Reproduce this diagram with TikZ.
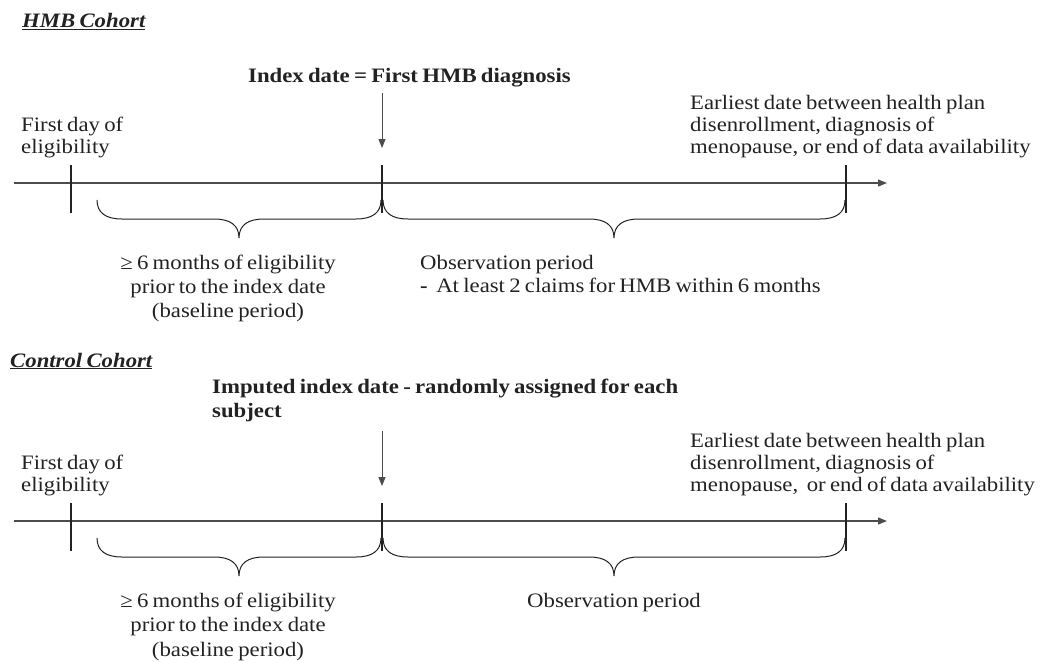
\documentclass[tikz,border=0pt]{standalone}
\usepackage{fontspec}
\setmainfont{Liberation Serif}[FakeStretch=1.11,WordSpace=0.75]
\usetikzlibrary{decorations.pathreplacing,arrows.meta,calc}
\definecolor{ink}{HTML}{222222}
\begin{document}
\begin{tikzpicture}[x=1pt,y=-1pt,
  txt/.style={anchor=base west,inner sep=0pt,text=ink,font=\fontsize{20.5}{22}\selectfont},
  ctxt/.style={anchor=base,inner sep=0pt,text=ink,font=\fontsize{20.5}{22}\selectfont},
  btxt/.style={anchor=base west,inner sep=0pt,text=ink,font=\fontsize{20.5}{22}\selectfont\bfseries},
  ttl/.style={anchor=base west,inner sep=0pt,text=ink,font=\fontsize{20.5}{22}\selectfont\bfseries\itshape},
  timeaxis/.style={draw=black!70,line width=1.2pt,-{Triangle[length=9pt,width=7pt]}},
  tickmark/.style={draw=ink,line width=2.6pt},
  brc/.style={draw=ink,line width=1pt,to path={let \p1=(\tikztostart), \p2=(\tikztotarget), \p3=($(\tikztostart)!0.5!(\tikztotarget)$) in
    (\p1) .. controls (\x1,\y1-13pt) and (\x1+9pt,\y1-19pt) .. (\x1+25pt,\y1-19pt)
    -- (\x3-25pt,\y1-19pt) .. controls (\x3-9pt,\y1-19pt) and (\x3,\y1-25pt) .. (\x3,\y1-38pt)
    .. controls (\x3,\y1-25pt) and (\x3+9pt,\y1-19pt) .. (\x3+25pt,\y1-19pt)
    -- (\x2-25pt,\y1-19pt) .. controls (\x2-9pt,\y1-19pt) and (\x2,\y1-13pt) .. (\x2,\y1)}},
  pointer/.style={draw=black!70,line width=1pt,-{Triangle[length=9pt,width=7pt]}}]
\useasboundingbox (0,0) rectangle (1043,661);

% ---------------- HMB cohort ----------------
\node[ttl] (t1) at (22,28) {\underline{HMB Cohort}};
\node[btxt] (idx1) at (248,82) {Index date = First HMB diagnosis};
\node[txt] (fd1a) at (21,131) {First day of};
\node[txt] (fd1b) at (21,153) {eligibility};
\node[txt] (ed1a) at (690,109) {Earliest date between health plan};
\node[txt] (ed1b) at (690,131) {disenrollment, diagnosis of};
\node[txt] (ed1c) at (690,153) {menopause, or end of data availability};

\coordinate (a1s) at (14,183);
\coordinate (a1e) at (887,183);
\draw[timeaxis] (a1s) -- (a1e);
\coordinate (k1at) at (71,165);  \coordinate (k1ab) at (71,213);
\coordinate (k1bt) at (382,165); \coordinate (k1bb) at (382,213);
\coordinate (k1ct) at (846,165); \coordinate (k1cb) at (846,213);
\draw[tickmark] (k1at) -- (k1ab);
\draw[tickmark] (k1bt) -- (k1bb);
\draw[tickmark] (k1ct) -- (k1cb);
\coordinate (p1s) at (382,93);
\coordinate (p1e) at (382,148);
\draw[pointer] (p1s) -- (p1e);
\coordinate (b1s) at (97,200);  \coordinate (b1e) at (381,200);
\coordinate (b2s) at (383,200); \coordinate (b2e) at (845,200);
\draw[brc] (b1s) to (b1e);
\draw[brc] (b2s) to (b2e);

\node[ctxt] (bl1a) at (228,269) {≥ 6 months of eligibility};
\node[ctxt] (bl1b) at (228,293) {prior to the index date};
\node[ctxt] (bl1c) at (228,317) {(baseline period)};
\node[txt] (ob1a) at (420,269) {Observation period};
\node[txt] (ob1b) at (420,292) {\textbf{-}\ \ At least 2 claims for HMB within 6 months};

% ---------------- Control cohort ----------------
\node[ttl] (t2) at (10,367) {\underline{Control Cohort}};
\node[btxt] (idx2a) at (212,393) {Imputed index date - randomly assigned for each};
\node[btxt] (idx2b) at (212,417) {subject};
\node[txt] (fd2a) at (21,469) {First day of};
\node[txt] (fd2b) at (21,491) {eligibility};
\node[txt] (ed2a) at (690,447) {Earliest date between health plan};
\node[txt] (ed2b) at (690,469) {disenrollment, diagnosis of};
\node[txt] (ed2c) at (690,491) {menopause,\ \ or end of data availability};

\coordinate (a2s) at (14,521);
\coordinate (a2e) at (887,521);
\draw[timeaxis] (a2s) -- (a2e);
\coordinate (k2at) at (71,503);  \coordinate (k2ab) at (71,551);
\coordinate (k2bt) at (382,503); \coordinate (k2bb) at (382,551);
\coordinate (k2ct) at (846,503); \coordinate (k2cb) at (846,551);
\draw[tickmark] (k2at) -- (k2ab);
\draw[tickmark] (k2bt) -- (k2bb);
\draw[tickmark] (k2ct) -- (k2cb);
\coordinate (p2s) at (382,431);
\coordinate (p2e) at (382,486);
\draw[pointer] (p2s) -- (p2e);
\coordinate (b3s) at (97,538);  \coordinate (b3e) at (381,538);
\coordinate (b4s) at (383,538); \coordinate (b4e) at (845,538);
\draw[brc] (b3s) to (b3e);
\draw[brc] (b4s) to (b4e);

\node[ctxt] (bl2a) at (228,607) {≥ 6 months of eligibility};
\node[ctxt] (bl2b) at (228,631) {prior to the index date};
\node[ctxt] (bl2c) at (228,656) {(baseline period)};
\node[ctxt] (ob2a) at (614,607) {Observation period};
\end{tikzpicture}
\end{document}
